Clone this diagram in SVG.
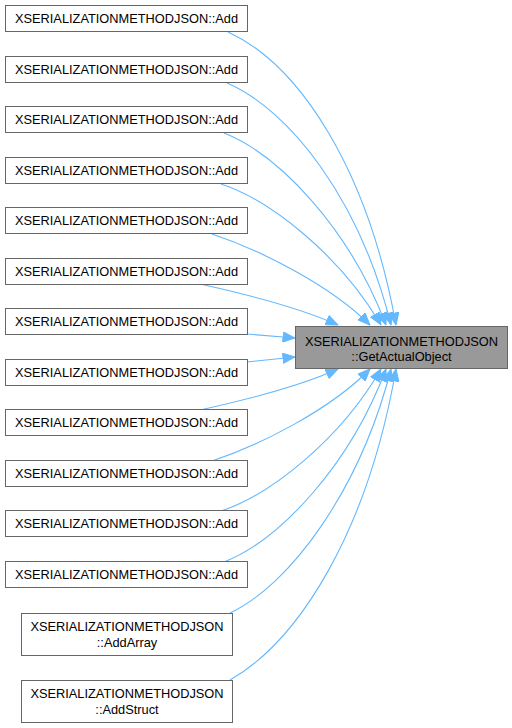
<svg xmlns="http://www.w3.org/2000/svg" width="512" height="728" viewBox="0 0 512 728">
<style>
.n rect{fill:#fff;stroke:#666;stroke-width:1}
.t rect{fill:#999;stroke:#666;stroke-width:1}
text{font-family:"Liberation Sans",Arial,sans-serif;font-size:12.8px;fill:#000;text-anchor:middle}
.e path{fill:none;stroke:#63b8ff;stroke-width:1.1;marker-end:url(#a)}
</style>
<defs>
<marker id="a" markerUnits="userSpaceOnUse" markerWidth="13" markerHeight="11" refX="12.5" refY="5.5" orient="auto">
<path d="M0.5,0.5 L12.5,5.5 L0.5,10.5 z" fill="#63b8ff" stroke="#63b8ff"/>
</marker>
</defs>
<g id="edges" class="e">
<path d="M228,32 C300,65 368,170 396,325"/>
<path d="M227,83 C290,110 360,200 391,325"/>
<path d="M224,133 C280,155 350,230 386,325"/>
<path d="M221,184 C270,200 340,255 381,325"/>
<path d="M212,234 C260,250 330,285 370,325"/>
<path d="M200,284 C250,295 300,308 338,325"/>
<path d="M247,334 L295,338"/>
<path d="M247,362 L295,357"/>
<path d="M200,410 C250,399 300,386 338,369"/>
<path d="M212,461 C260,445 330,410 370,369"/>
<path d="M221,511 C270,495 340,440 381,369"/>
<path d="M224,562 C280,540 350,465 386,369"/>
<path d="M230,613 C290,585 360,490 391,369"/>
<path d="M230,680 C300,640 368,530 396,369"/>
</g>
<g id="target" class="t"><rect x="295.5" y="326.5" width="212" height="42"/><text x="401.5" y="346">XSERIALIZATIONMETHODJSON</text><text x="401.5" y="361">::GetActualObject</text></g>
<g id="n1" class="n"><rect x="5.5" y="5.5" width="242" height="26"/><text x="126.5" y="23">XSERIALIZATIONMETHODJSON::Add</text></g>
<g id="n2" class="n"><rect x="5.5" y="56.5" width="242" height="26"/><text x="126.5" y="74">XSERIALIZATIONMETHODJSON::Add</text></g>
<g id="n3" class="n"><rect x="5.5" y="106.5" width="242" height="26"/><text x="126.5" y="124">XSERIALIZATIONMETHODJSON::Add</text></g>
<g id="n4" class="n"><rect x="5.5" y="157.5" width="242" height="26"/><text x="126.5" y="175">XSERIALIZATIONMETHODJSON::Add</text></g>
<g id="n5" class="n"><rect x="5.5" y="207.5" width="242" height="26"/><text x="126.5" y="225">XSERIALIZATIONMETHODJSON::Add</text></g>
<g id="n6" class="n"><rect x="5.5" y="258.5" width="242" height="26"/><text x="126.5" y="276">XSERIALIZATIONMETHODJSON::Add</text></g>
<g id="n7" class="n"><rect x="5.5" y="308.5" width="242" height="26"/><text x="126.5" y="326">XSERIALIZATIONMETHODJSON::Add</text></g>
<g id="n8" class="n"><rect x="5.5" y="359.5" width="242" height="26"/><text x="126.5" y="377">XSERIALIZATIONMETHODJSON::Add</text></g>
<g id="n9" class="n"><rect x="5.5" y="409.5" width="242" height="26"/><text x="126.5" y="427">XSERIALIZATIONMETHODJSON::Add</text></g>
<g id="n10" class="n"><rect x="5.5" y="460.5" width="242" height="26"/><text x="126.5" y="478">XSERIALIZATIONMETHODJSON::Add</text></g>
<g id="n11" class="n"><rect x="5.5" y="510.5" width="242" height="26"/><text x="126.5" y="528">XSERIALIZATIONMETHODJSON::Add</text></g>
<g id="n12" class="n"><rect x="5.5" y="561.5" width="242" height="26"/><text x="126.5" y="579">XSERIALIZATIONMETHODJSON::Add</text></g>
<g id="n13" class="n"><rect x="21.5" y="613.5" width="211" height="42"/><text x="127" y="631">XSERIALIZATIONMETHODJSON</text><text x="127" y="647">::AddArray</text></g>
<g id="n14" class="n"><rect x="21.5" y="680.5" width="211" height="42"/><text x="127" y="698">XSERIALIZATIONMETHODJSON</text><text x="127" y="714">::AddStruct</text></g>
</svg>
